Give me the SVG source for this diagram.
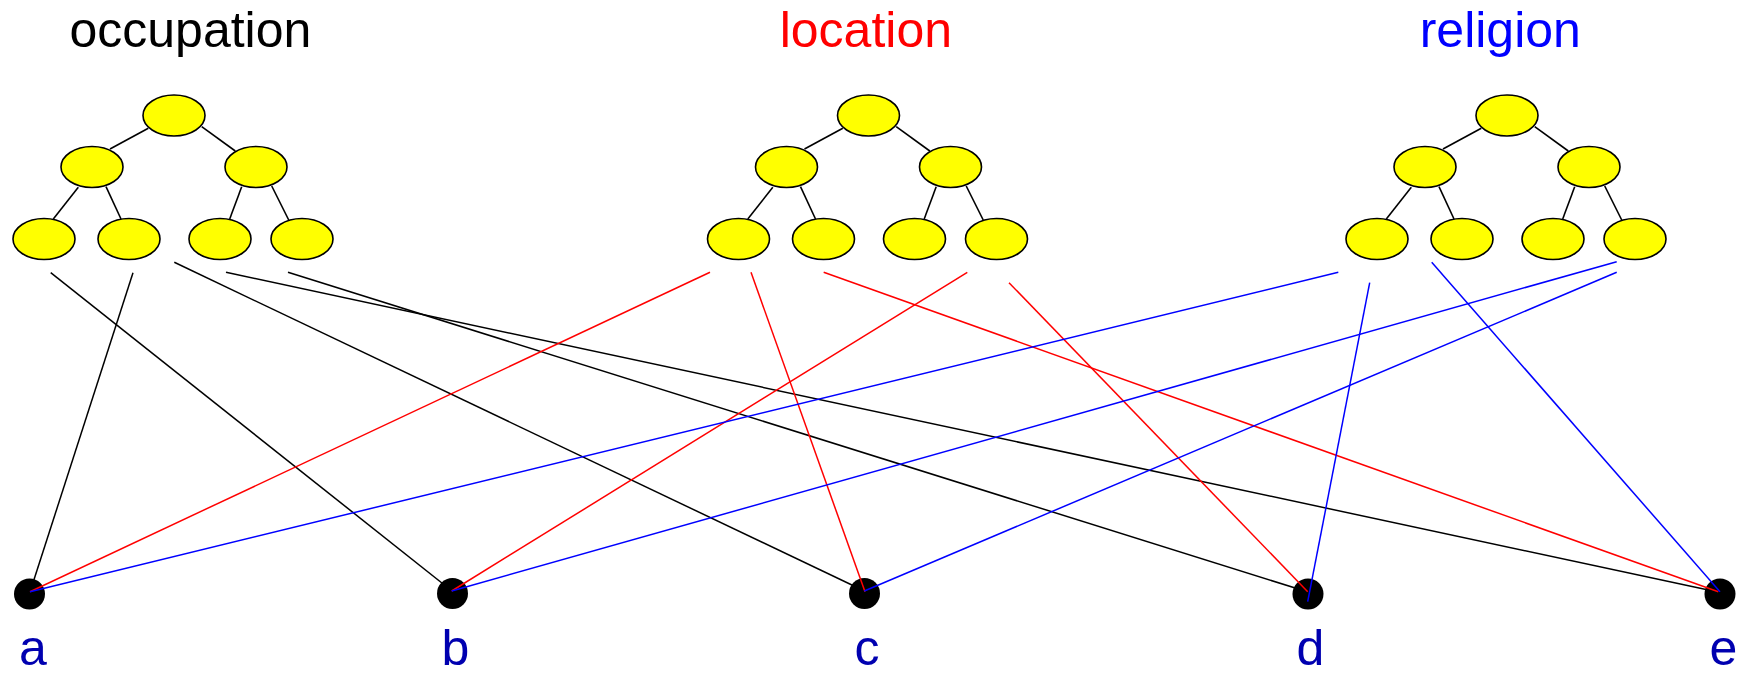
<svg xmlns="http://www.w3.org/2000/svg" width="1745" height="673" viewBox="0 0 1745 673">
  <style>
    .title { font-family: "Liberation Sans", Arial, sans-serif; font-size: 50px; }
    .label { font-family: "Liberation Sans", Arial, sans-serif; font-size: 50px; fill: #0000b0; text-anchor: middle; }
    .tnode { fill: #ffff00; stroke: #000; stroke-width: 1.6; }
    .tedge { stroke: #000; stroke-width: 1.6; fill: none; }
    .dot { fill: #000; }
    .occ { stroke: #000; stroke-width: 1.5; fill: none; }
    .loc { stroke: #ff0000; stroke-width: 1.5; fill: none; }
    .rel { stroke: #0000ff; stroke-width: 1.5; fill: none; }
  </style>
  <defs>
    <!-- internal edges of a three-level binary tree -->
    <g id="tree-edges">
      <line class="tedge" x1="148.3" y1="128.3" x2="110" y2="149"/>
      <line class="tedge" x1="201.7" y1="126.7" x2="235.3" y2="151"/>
      <line class="tedge" x1="78.3" y1="187.3" x2="53.3" y2="219"/>
      <line class="tedge" x1="106" y1="186.7" x2="121" y2="219"/>
      <line class="tedge" x1="241.7" y1="186.7" x2="229.7" y2="219"/>
      <line class="tedge" x1="271.7" y1="186" x2="288.7" y2="220"/>
    </g>
  </defs>

  <!-- attribute titles -->
  <text class="title" x="69.5" y="47" fill="#000">occupation</text>
  <text class="title" x="779.7" y="47" fill="#ff0000">location</text>
  <text class="title" x="1419.7" y="47" fill="#0000ff">religion</text>

  <!-- occupation hierarchy -->
  <g id="tree-occupation">
    <use href="#tree-edges"/>
    <g id="occ-root"><ellipse class="tnode" cx="174" cy="115.5" rx="31" ry="20.5"/></g>
    <g id="occ-l"><ellipse class="tnode" cx="92" cy="167" rx="31" ry="20.5"/></g>
    <g id="occ-r"><ellipse class="tnode" cx="256" cy="167" rx="31" ry="20.5"/></g>
    <g id="occ-ll"><ellipse class="tnode" cx="44" cy="239" rx="31" ry="20.5"/></g>
    <g id="occ-lr"><ellipse class="tnode" cx="129" cy="239" rx="31" ry="20.5"/></g>
    <g id="occ-rl"><ellipse class="tnode" cx="220" cy="239" rx="31" ry="20.5"/></g>
    <g id="occ-rr"><ellipse class="tnode" cx="302" cy="239" rx="31" ry="20.5"/></g>
  </g>

  <!-- location hierarchy -->
  <g id="tree-location" transform="translate(694.5,0)">
    <use href="#tree-edges"/>
    <g id="loc-root"><ellipse class="tnode" cx="174" cy="115.5" rx="31" ry="20.5"/></g>
    <g id="loc-l"><ellipse class="tnode" cx="92" cy="167" rx="31" ry="20.5"/></g>
    <g id="loc-r"><ellipse class="tnode" cx="256" cy="167" rx="31" ry="20.5"/></g>
    <g id="loc-ll"><ellipse class="tnode" cx="44" cy="239" rx="31" ry="20.5"/></g>
    <g id="loc-lr"><ellipse class="tnode" cx="129" cy="239" rx="31" ry="20.5"/></g>
    <g id="loc-rl"><ellipse class="tnode" cx="220" cy="239" rx="31" ry="20.5"/></g>
    <g id="loc-rr"><ellipse class="tnode" cx="302" cy="239" rx="31" ry="20.5"/></g>
  </g>

  <!-- religion hierarchy -->
  <g id="tree-religion" transform="translate(1333,0)">
    <use href="#tree-edges"/>
    <g id="rel-root"><ellipse class="tnode" cx="174" cy="115.5" rx="31" ry="20.5"/></g>
    <g id="rel-l"><ellipse class="tnode" cx="92" cy="167" rx="31" ry="20.5"/></g>
    <g id="rel-r"><ellipse class="tnode" cx="256" cy="167" rx="31" ry="20.5"/></g>
    <g id="rel-ll"><ellipse class="tnode" cx="44" cy="239" rx="31" ry="20.5"/></g>
    <g id="rel-lr"><ellipse class="tnode" cx="129" cy="239" rx="31" ry="20.5"/></g>
    <g id="rel-rl"><ellipse class="tnode" cx="220" cy="239" rx="31" ry="20.5"/></g>
    <g id="rel-rr"><ellipse class="tnode" cx="302" cy="239" rx="31" ry="20.5"/></g>
  </g>

  <!-- occupation links run beneath the records -->
  <g id="connectors-occupation">
    <line class="occ" x1="133" y1="272.7" x2="30" y2="592"/>
    <line class="occ" x1="50.7" y1="272.7" x2="452" y2="591"/>
    <line class="occ" x1="174.3" y1="262.3" x2="864.5" y2="591"/>
    <line class="occ" x1="226" y1="272.3" x2="1720" y2="592.5"/>
    <line class="occ" x1="288" y1="272.3" x2="1308" y2="592"/>
  </g>

  <!-- records -->
  <g id="rec-a"><circle class="dot" cx="29.5" cy="594" r="15.5"/><text class="label" x="33" y="665">a</text></g>
  <g id="rec-b"><circle class="dot" cx="452.5" cy="593.5" r="15.5"/><text class="label" x="455.5" y="665">b</text></g>
  <g id="rec-c"><circle class="dot" cx="864.5" cy="593.5" r="15.5"/><text class="label" x="867" y="665">c</text></g>
  <g id="rec-d"><circle class="dot" cx="1308" cy="594" r="15.5"/><text class="label" x="1310.5" y="665">d</text></g>
  <g id="rec-e"><circle class="dot" cx="1720" cy="594" r="15.5"/><text class="label" x="1723.3" y="665">e</text></g>

  <!-- location and religion links drawn over the records -->
  <g id="connectors">
    <line class="loc" x1="710" y1="272.3" x2="30" y2="591.7"/>
    <line class="loc" x1="751" y1="272.3" x2="865" y2="591.7"/>
    <line class="loc" x1="823.7" y1="272.3" x2="1718.3" y2="591.7"/>
    <line class="loc" x1="967.3" y1="272.3" x2="451.7" y2="591"/>
    <line class="loc" x1="1009" y1="282.7" x2="1307.7" y2="591.7"/>
    <line class="rel" x1="1338.3" y1="272.3" x2="30" y2="591.7"/>
    <line class="rel" x1="1369.7" y1="282.7" x2="1307.7" y2="601.7"/>
    <line class="rel" x1="1431.7" y1="262.3" x2="1720" y2="591.7"/>
    <line class="rel" x1="1616.7" y1="261.7" x2="451.7" y2="591"/>
    <line class="rel" x1="1616.7" y1="272.3" x2="864.3" y2="591"/>
  </g>
</svg>
